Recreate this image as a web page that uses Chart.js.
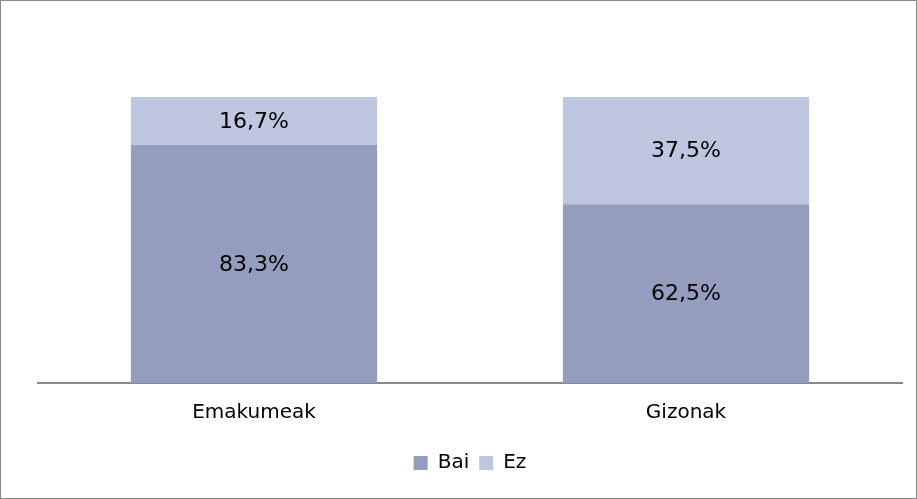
<!DOCTYPE html>
<html><head><meta charset="utf-8">
<script src="https://cdn.jsdelivr.net/npm/chart.js@4/dist/chart.umd.min.js"></script>
<style>
html,body{margin:0;padding:0;background:#fff;}
#wrap{position:relative;width:917px;height:499px;box-sizing:border-box;border:1px solid #888;}
canvas{position:absolute;left:0;top:0;}
</style></head><body>
<div id="wrap"><canvas id="c" width="915" height="497"></canvas></div>
<script>
const categories = ["Emakumeak", "Gizonak"];
const seriesNames = ["Bai", "Ez"];
const baiValues = [83.3, 62.5];
const ezValues = [16.7, 37.5];

const FONT = "'DejaVu Sans', sans-serif";
const labelPlugin = {
  id: 'lbl',
  afterDatasetsDraw(chart) {
    const ctx = chart.ctx;
    ctx.save();
    ctx.font = "22px " + FONT;
    ctx.fillStyle = "#000";
    ctx.textAlign = "center";
    ctx.textBaseline = "middle";
    chart.data.datasets.forEach((ds, i) => {
      chart.getDatasetMeta(i).data.forEach((bar, j) => {
        const v = ds.data[j];
        const y = (bar.y + bar.base) / 2;
        ctx.fillText(v.toFixed(1).replace('.', ',') + '%', bar.x, y + 1);
      });
    });
    ctx.restore();
  }
};

new Chart(document.getElementById('c'), {
  type: 'bar',
  data: {
    labels: categories,
    datasets: [
      { label: seriesNames[0], data: baiValues, backgroundColor: '#949DBD', categoryPercentage: 0.57, barPercentage: 1 },
      { label: seriesNames[1], data: ezValues, backgroundColor: '#BFC6E0', categoryPercentage: 0.57, barPercentage: 1 }
    ]
  },
  options: {
    responsive: false,
    animation: false,
    layout: { padding: { left: 37, right: 14, top: 96, bottom: 15 } },
    plugins: {
      legend: {
        position: 'bottom',
        labels: { font: { family: FONT, size: 20 }, color: '#000', boxWidth: 14, boxHeight: 14, padding: 10 }
      },
      tooltip: { enabled: false }
    },
    scales: {
      x: {
        stacked: true,
        grid: { display: false, drawTicks: false },
        border: { display: true, color: '#888', width: 2 },
        ticks: { font: { family: FONT, size: 20 }, color: '#000', padding: 18 }
      },
      y: {
        stacked: true, min: 0, max: 100, display: false
      }
    }
  },
  plugins: [labelPlugin]
});
</script>
</body></html>
